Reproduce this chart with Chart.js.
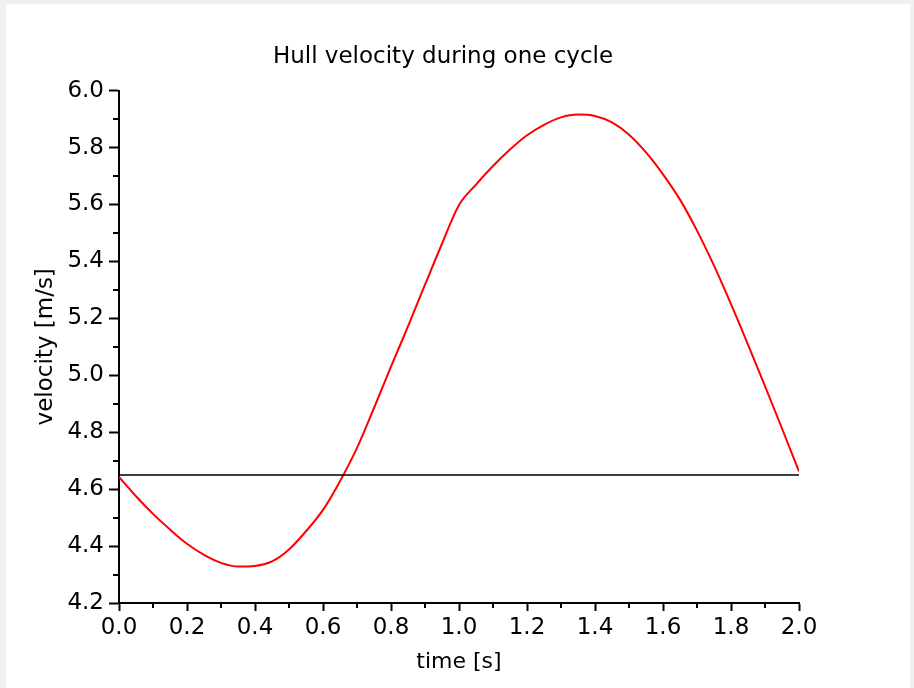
<!DOCTYPE html>
<html>
<head>
<meta charset="utf-8">
<script src="https://cdn.jsdelivr.net/npm/chart.js@4"></script>
<style>
  html, body { margin: 0; padding: 0; background: #f0f0f0; }
  #box { position: absolute; left: 6px; top: 4px; width: 904px; height: 684px; background: #fff; }
</style>
</head>
<body>
<div id="box"><canvas id="hullChart" width="904" height="684"></canvas></div>
<script>
var timeValues = [0, 0.05, 0.1, 0.15, 0.2, 0.25, 0.3, 0.35, 0.4, 0.45, 0.5, 0.55, 0.6, 0.65, 0.7, 0.75, 0.8, 0.85, 0.9, 0.95, 1.0,
  1.05, 1.1, 1.15, 1.2, 1.25, 1.3, 1.35, 1.4, 1.45, 1.5, 1.55, 1.6, 1.65, 1.7, 1.75, 1.8, 1.85, 1.9, 1.95, 2.0];
var velocityValues = [4.643, 4.575, 4.513, 4.458, 4.408, 4.369, 4.341, 4.328, 4.330, 4.346, 4.388, 4.452, 4.527, 4.628, 4.745, 4.885, 5.030, 5.172, 5.318, 5.462, 5.598,
  5.670, 5.735, 5.793, 5.843, 5.880, 5.906, 5.916, 5.911, 5.888, 5.845, 5.783, 5.706, 5.617, 5.508, 5.385, 5.250, 5.108, 4.962, 4.813, 4.662];
var meanVelocity = 4.65;
var timeRange = [0, 2];
var velocityRange = [4.2, 6.0];

var fontFamily = "'DejaVu Sans', sans-serif";

// minor ticks halfway between the labelled ones
var minorTicks = {
  id: "minorTicks",
  afterDraw: function (chart) {
    var ctx = chart.ctx, xs = chart.scales.x, ys = chart.scales.y;
    ctx.save();
    ctx.strokeStyle = "#000";
    ctx.lineWidth = 2;
    ctx.beginPath();
    for (var i = 0; i < xs.ticks.length - 1; i++) {
      var px = Math.round(xs.getPixelForValue((xs.ticks[i].value + xs.ticks[i + 1].value) / 2));
      ctx.moveTo(px, xs.top);
      ctx.lineTo(px, xs.top + 5);
    }
    for (var j = 0; j < ys.ticks.length - 1; j++) {
      var py = Math.round(ys.getPixelForValue((ys.ticks[j].value + ys.ticks[j + 1].value) / 2));
      ctx.moveTo(ys.right, py);
      ctx.lineTo(ys.right - 6, py);
    }
    ctx.stroke();
    ctx.restore();
  }
};

new Chart(document.getElementById("hullChart"), {
  type: "line",
  data: {
    datasets: [
      {
        data: timeValues.map(function (t, i) { return { x: t, y: velocityValues[i] }; }),
        borderColor: "#ff0000",
        borderWidth: 2,
        pointRadius: 0,
        cubicInterpolationMode: "monotone",
        order: 1
      },
      {
        data: [{ x: timeRange[0], y: meanVelocity }, { x: timeRange[1], y: meanVelocity }],
        borderColor: "#000",
        borderWidth: 1.5,
        pointRadius: 0,
        order: 0
      }
    ]
  },
  options: {
    responsive: false,
    animation: false,
    layout: { padding: { left: 58, right: 88, top: 0, bottom: 0 } },
    plugins: {
      legend: { display: false },
      tooltip: { enabled: false },
      title: {
        display: true,
        text: "Hull velocity during one cycle",
        color: "#000",
        font: { family: fontFamily, size: 23, weight: "normal" },
        padding: { top: 39, bottom: 20 }
      }
    },
    scales: {
      x: {
        type: "linear",
        min: timeRange[0],
        max: timeRange[1],
        afterFit: function (s) { s.height = 85; },
        border: { color: "#000", width: 2 },
        grid: { drawOnChartArea: false, drawTicks: true, tickLength: 8, tickColor: "#000", tickWidth: 2 },
        ticks: {
          stepSize: 0.2,
          color: "#000",
          padding: 3,
          maxRotation: 0,
          font: { family: fontFamily, size: 23 },
          callback: function (v) { return v.toFixed(1); }
        },
        title: {
          display: true,
          text: "time [s]",
          color: "#000",
          font: { family: fontFamily, size: 22 },
          padding: { top: 0, bottom: 13 }
        }
      },
      y: {
        min: velocityRange[0],
        max: velocityRange[1],
        afterFit: function (s) { s.width = 55; },
        border: { color: "#000", width: 2 },
        grid: { drawOnChartArea: false, drawTicks: true, tickLength: 10, tickColor: "#000", tickWidth: 2 },
        ticks: {
          stepSize: 0.2,
          color: "#000",
          padding: 5,
          font: { family: fontFamily, size: 23 },
          callback: function (v) { return v.toFixed(1); }
        },
        title: {
          display: true,
          text: "velocity [m/s]",
          color: "#000",
          font: { family: fontFamily, size: 23 },
          padding: { top: -32, bottom: 0 }
        }
      },
      // empty right-hand axis, only there so the title sits where the original has it
      yRight: {
        position: "right",
        min: velocityRange[0],
        max: velocityRange[1],
        afterFit: function (s) { s.width = 23; },
        border: { display: false },
        grid: { display: false },
        ticks: { display: false }
      }
    }
  },
  plugins: [minorTicks]
});
</script>
</body>
</html>
